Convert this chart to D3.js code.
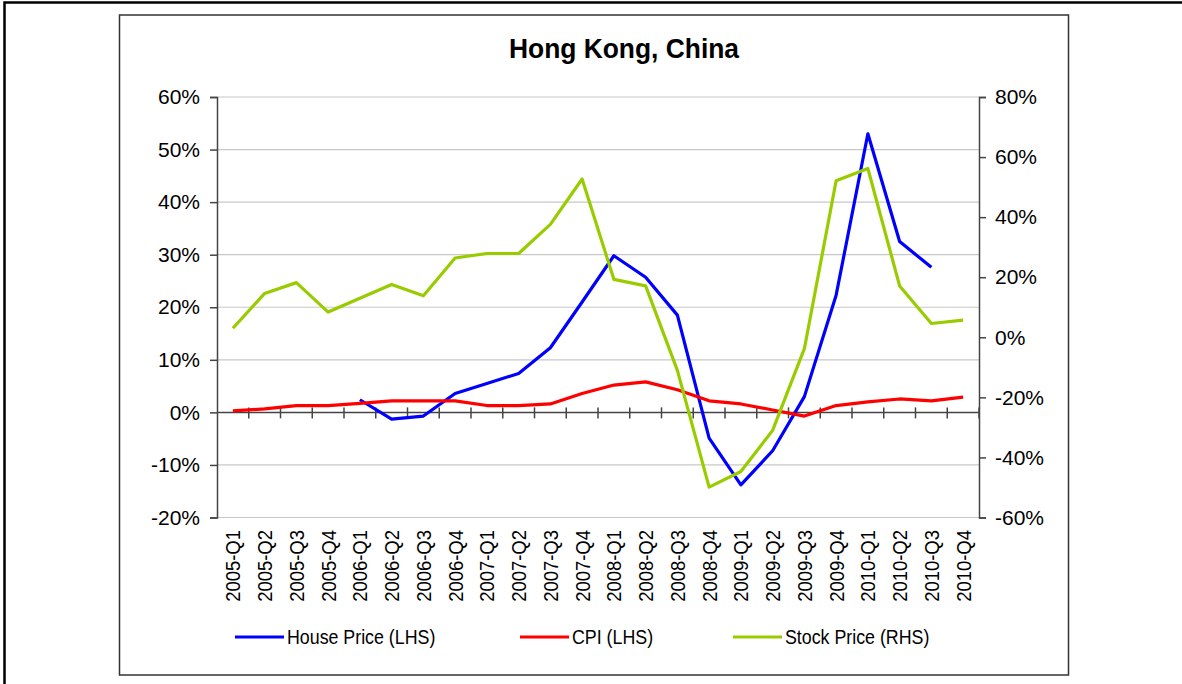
<!DOCTYPE html>
<html>
<head>
<meta charset="utf-8">
<script src="https://cdn.jsdelivr.net/npm/d3@7"></script>
<style>
  body { margin: 0; background: #fff; }
  svg { display: block; font-family: "Liberation Sans", Arial, sans-serif; }
</style>
</head>
<body>
<svg id="chart" width="1182" height="684"></svg>
<script>
// quarters on the x axis
var quarters = ["2005-Q1","2005-Q2","2005-Q3","2005-Q4","2006-Q1","2006-Q2","2006-Q3","2006-Q4",
  "2007-Q1","2007-Q2","2007-Q3","2007-Q4","2008-Q1","2008-Q2","2008-Q3","2008-Q4",
  "2009-Q1","2009-Q2","2009-Q3","2009-Q4","2010-Q1","2010-Q2","2010-Q3","2010-Q4"];

// values in %, null = no data
var housePrice = [null, null, null, null, 2.4, -1.3, -0.7, 3.6, 5.5, 7.4, 12.3, 21.0,
  29.8, 25.7, 18.5, -4.9, -13.8, -7.3, 3.0, 22.3, 53.0, 32.5, 27.6, null];
var cpi = [0.3, 0.65, 1.3, 1.3, 1.7, 2.2, 2.2, 2.2, 1.3, 1.3, 1.6, 3.6,
  5.2, 5.8, 4.3, 2.2, 1.6, 0.45, -0.7, 1.3, 2.0, 2.55, 2.2, 2.9];
var stockPrice = [3.0, 14.6, 18.2, 8.4, 13.0, 17.6, 13.8, 26.4, 27.9, 27.9, 37.6, 52.7,
  19.3, 17.1, -11.0, -49.9, -44.7, -31.0, -3.8, 52.1, 56.2, 17.1, 4.6, 5.7];

var leftTicks = [-20, -10, 0, 10, 20, 30, 40, 50, 60];
var rightTicks = [-60, -40, -20, 0, 20, 40, 60, 80];

var series = [
  { name: "House Price (LHS)", values: housePrice, axis: "left", color: "#0000ff" },
  { name: "CPI (LHS)", values: cpi, axis: "left", color: "#ff0000" },
  { name: "Stock Price (RHS)", values: stockPrice, axis: "right", color: "#99cc00" }
];

var svg = d3.select("#chart");
var plotLeft = 217, plotRight = 979, plotTop = 97, plotBottom = 517.5;

// outer and inner frames
svg.append("path").attr("d", "M4.5,700 V2.5 H1190").attr("fill", "none").attr("stroke", "#000").attr("stroke-width", 2.5);
svg.append("rect").attr("x", 119.5).attr("y", 15).attr("width", 949).attr("height", 660)
  .attr("fill", "#fff").attr("stroke", "#333").attr("stroke-width", 1.5);

svg.append("text").attr("transform", "translate(624,58) scale(0.96,1)").attr("text-anchor", "middle")
  .attr("font-size", 27.5).attr("font-weight", "bold").text("Hong Kong, China");

var x = d3.scaleBand().domain(quarters).range([plotLeft, plotRight]);
var yL = d3.scaleLinear().domain([-20, 60]).range([plotBottom, plotTop]);
var yR = d3.scaleLinear().domain([-60, 80]).range([plotBottom, plotTop]);

// gridlines
svg.append("g").selectAll("line").data(leftTicks.filter(function(d) { return d !== 0; }))
  .enter().append("line")
  .attr("x1", plotLeft).attr("x2", plotRight)
  .attr("y1", function(d) { return yL(d); }).attr("y2", function(d) { return yL(d); })
  .attr("stroke", "#c8c8c8").attr("stroke-width", 1.2);

// left axis
var gl = svg.append("g").attr("transform", "translate(" + plotLeft + ",0)")
  .call(d3.axisLeft(yL).tickValues(leftTicks).tickSize(7).tickPadding(10)
    .tickFormat(function(d) { return d + "%"; }));
gl.selectAll("text").attr("font-size", 21).attr("fill", "#000");

// right axis
var gr = svg.append("g").attr("transform", "translate(" + plotRight + ",0)")
  .call(d3.axisRight(yR).tickValues(rightTicks).tickSize(7).tickPadding(9)
    .tickFormat(function(d) { return d + "%"; }));
gr.selectAll("text").attr("font-size", 21).attr("fill", "#000");

[gl, gr].forEach(function(g) {
  g.select(".domain").attr("stroke", "#444").attr("stroke-width", 1.5);
  g.selectAll(".tick line").attr("stroke", "#444").attr("stroke-width", 1.5);
});

// category axis on the zero line
var zeroY = yL(0);
svg.append("line").attr("x1", plotLeft).attr("x2", plotRight).attr("y1", zeroY).attr("y2", zeroY)
  .attr("stroke", "#444").attr("stroke-width", 1.5);
var bounds = quarters.map(function(q) { return x(q) + x.bandwidth(); });
svg.append("g").selectAll("line").data(bounds).enter().append("line")
  .attr("x1", function(d) { return d; }).attr("x2", function(d) { return d; })
  .attr("y1", zeroY - 5).attr("y2", zeroY + 6)
  .attr("stroke", "#444").attr("stroke-width", 1.5);

svg.append("g").selectAll("text").data(quarters).enter().append("text")
  .attr("transform", function(d) {
    return "translate(" + (x(d) + x.bandwidth() / 2 + 7.5) + "," + 530 + ") rotate(-90) scale(0.88,1)";
  })
  .attr("text-anchor", "end").attr("font-size", 21).text(function(d) { return d; });

// lines
series.forEach(function(s) {
  var yS = s.axis === "left" ? yL : yR;
  var line = d3.line()
    .defined(function(d) { return d !== null; })
    .x(function(d, i) { return x(quarters[i]) + x.bandwidth() / 2; })
    .y(function(d) { return yS(d); });
  svg.append("path").datum(s.values)
    .attr("fill", "none").attr("stroke", s.color).attr("stroke-width", 3.2)
    .attr("stroke-linejoin", "round").attr("d", line);
});

// legend
var legendX = [235, 520, 733];
var lg = svg.append("g").selectAll("g").data(series).enter().append("g")
  .attr("transform", function(d, i) { return "translate(" + legendX[i] + ",637)"; });
lg.append("line").attr("x1", 0).attr("x2", 49).attr("y1", 0).attr("y2", 0)
  .attr("stroke", function(d) { return d.color; }).attr("stroke-width", 3.2);
lg.append("text").attr("transform", "translate(52,7) scale(0.89,1)").attr("font-size", 20)
  .text(function(d) { return d.name; });
</script>
</body>
</html>
